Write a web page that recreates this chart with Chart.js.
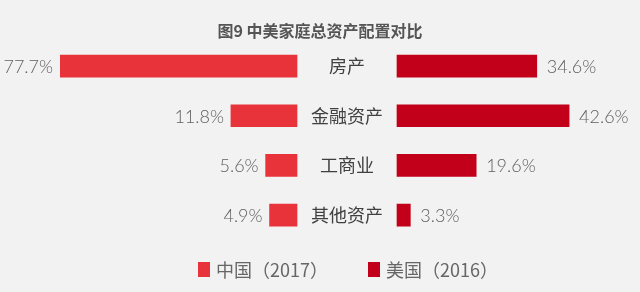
<!DOCTYPE html>
<html>
<head>
<meta charset="utf-8">
<script src="https://cdn.jsdelivr.net/npm/chart.js@4/dist/chart.umd.min.js"></script>
<style>
  html, body { margin: 0; padding: 0; background: #f2f2f2; }
  #wrap { width: 640px; height: 292px; position: relative; }
</style>
</head>
<body>
<div id="wrap"><canvas id="c" width="640" height="292"></canvas></div>
<script>
const categories = ['房产', '金融资产', '工商业', '其他资产'];
const chinaValues = [77.7, 11.8, 5.6, 4.9];
const usValues = [34.6, 42.6, 19.6, 3.3];
const seriesNames = ['中国（2017）', '美国（2016）'];
const chartTitle = '图9 中美家庭总资产配置对比';

const COLOR_CN = '#e8333b';
const COLOR_US = '#c20019';
const NUM_FONT = '300 18px Lato, "Liberation Sans", sans-serif';
const CJK_FONT = '18px "Noto Sans CJK SC", sans-serif';
const LEFT_LIMIT = 60; // bars of the left side are cut at this pixel (broken bar)

const labelPlugin = {
  id: 'labels',
  afterDatasetsDraw(chart) {
    const ctx = chart.ctx;
    const area = chart.chartArea;
    ctx.save();
    ctx.textBaseline = 'middle';
    chart.getDatasetMeta(0).data.forEach((bar, i) => {
      const x = Math.max(bar.x, area.left + LEFT_LIMIT);
      ctx.font = NUM_FONT;
      ctx.fillStyle = '#5f5f5f';
      ctx.textAlign = 'right';
      ctx.fillText(chinaValues[i].toFixed(1) + '%', x - 7, bar.y + 1);
    });
    const xl = chart.scales.xL.getPixelForValue(0);
    const xr = chart.scales.xR.getPixelForValue(0);
    chart.getDatasetMeta(1).data.forEach((bar, i) => {
      ctx.font = NUM_FONT;
      ctx.fillStyle = '#5f5f5f';
      ctx.textAlign = 'left';
      ctx.fillText(usValues[i].toFixed(1) + '%', bar.x + 10, bar.y + 1);
      ctx.font = CJK_FONT;
      ctx.fillStyle = '#404040';
      ctx.textAlign = 'center';
      ctx.fillText(categories[i], (xl + xr) / 2, bar.y);
    });
    ctx.restore();
  },
  afterDraw(chart) {
    const ctx = chart.ctx;
    ctx.save();
    const items = [
      { x: 198, color: COLOR_CN, text: seriesNames[0] },
      { x: 368, color: COLOR_US, text: seriesNames[1] }
    ];
    ctx.textBaseline = 'middle';
    ctx.textAlign = 'left';
    items.forEach(it => {
      ctx.fillStyle = it.color;
      ctx.fillRect(it.x, 262, 12, 15);
      ctx.font = '18px "Noto Sans CJK SC", sans-serif';
      ctx.fillStyle = '#666666';
      ctx.fillText(it.text, it.x + 18, 270);
    });
    ctx.restore();
  }
};

new Chart(document.getElementById('c'), {
  type: 'bar',
  data: {
    labels: categories,
    datasets: [
      {
        label: seriesNames[0],
        data: chinaValues,
        xAxisID: 'xL',
        backgroundColor: COLOR_CN,
        barThickness: 22,
        clip: { left: -LEFT_LIMIT, top: 0, right: 0, bottom: 0 },
        grouped: false
      },
      {
        label: seriesNames[1],
        data: usValues,
        xAxisID: 'xR',
        backgroundColor: COLOR_US,
        barThickness: 22,
        clip: 0,
        grouped: false
      }
    ]
  },
  options: {
    indexAxis: 'y',
    responsive: false,
    animation: false,
    devicePixelRatio: 1,
    layout: { padding: { left: 0, right: 0, top: 0, bottom: 52 } },
    scales: {
      y: { display: false, offset: true },
      xL: {
        type: 'linear', position: 'bottom', display: false, reverse: true,
        min: -61.25, max: 53.04
      },
      xR: {
        type: 'linear', position: 'bottom', display: false,
        min: -98.27, max: 60.15
      }
    },
    plugins: {
      legend: { display: false },
      tooltip: { enabled: false },
      title: {
        display: true,
        text: chartTitle,
        color: '#555555',
        font: { family: '"Noto Sans CJK SC", sans-serif', size: 16, weight: 'bold', lineHeight: 1.2 },
        padding: { top: 21, bottom: 1 }
      }
    }
  },
  plugins: [labelPlugin]
});
</script>
</body>
</html>
